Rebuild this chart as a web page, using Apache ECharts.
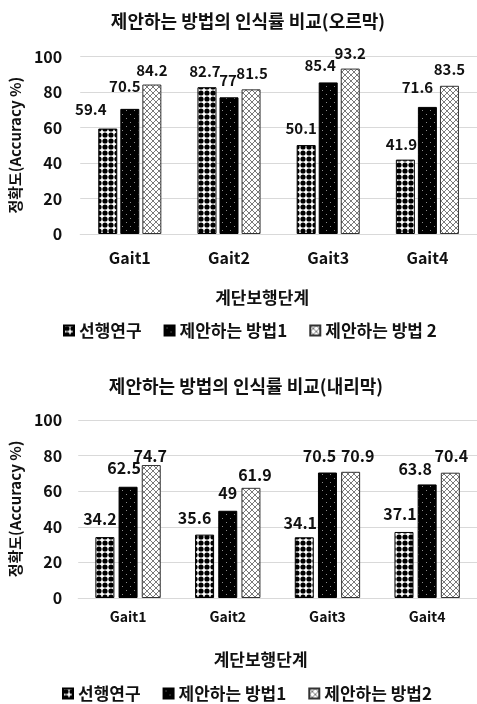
<!DOCTYPE html>
<html>
<head>
<meta charset="utf-8">
<script src="https://cdn.jsdelivr.net/npm/echarts@6/dist/echarts.min.js"></script>
<style>
  html, body { margin: 0; padding: 0; background: #fff; }
  #chart { width: 477px; height: 704px; }
</style>
</head>
<body>
<div id="chart"></div>
<script>
// Gait stages and recognition accuracy (%) per method
const categories = ['Gait1', 'Gait2', 'Gait3', 'Gait4'];
const seriesNames = ['선행연구', '제안하는 방법1'];
const uphillThirdName = '제안하는 방법 2';
const downhillThirdName = '제안하는 방법2';

// uphill (오르막)
const uphillPrior = [59.4, 82.7, 50.1, 41.9];
const uphillMethod1 = [70.5, 77, 85.4, 71.6];
const uphillMethod2 = [84.2, 81.5, 93.2, 83.5];

// downhill (내리막)
const downhillPrior = [34.2, 35.6, 34.1, 37.1];
const downhillMethod1 = [62.5, 49, 70.5, 63.8];
const downhillMethod2 = [74.7, 61.9, 70.9, 70.4];

// value axis ticks
const yMin = 0, yMax = 100, yStep = 20;

// label nudges (px) so the value labels sit clear of each other
const upShift = [
  [[-17, -7], [-2, -3], [-5, -4], [-4, -3]],
  [[-5, -10], [-1, -5], [-8, -5], [-10, -7]],
  [[0, -2], [1, -4], [0, -3], [0, -4]]
];
const downShift = [
  [[-5, -5], [-10, -4], [-4, -1], [-4, -5]],
  [[-4, -6], [0, -5], [-8, -4], [-12, -3]],
  [[-1, 4], [4, 0], [7, -3], [1, -4]]
];

const FONT = "'Noto Sans CJK KR', 'Noto Sans', sans-serif";
const INK = '#111';

// fill patterns
function tile(size, draw) {
  const c = document.createElement('canvas');
  c.width = size; c.height = size;
  const g = c.getContext('2d');
  draw(g, size);
  return { image: c, repeat: 'repeat' };
}
const dotsPattern = tile(6, (g, s) => {
  g.fillStyle = '#fff'; g.fillRect(0, 0, s, s);
  g.fillStyle = '#000';
  g.beginPath(); g.arc(3, 3, 2.6, 0, Math.PI * 2); g.fill();
});
const darkPattern = tile(8, (g, s) => {
  g.fillStyle = '#000'; g.fillRect(0, 0, s, s);
  g.fillStyle = '#8a8a8a';
  g.fillRect(2, 2, 1, 1);
  g.fillRect(6, 6, 1, 1);
});
const crossPattern = tile(6, (g, s) => {
  g.fillStyle = '#fff'; g.fillRect(0, 0, s, s);
  g.strokeStyle = '#7a7a7a'; g.lineWidth = 1;
  g.beginPath();
  g.moveTo(0, 0); g.lineTo(s, s);
  g.moveTo(s, 0); g.lineTo(0, s);
  g.stroke();
});
const fills = [dotsPattern, darkPattern, crossPattern];
const borders = ['#000', '#000', '#333'];

function makeData(values, shifts) {
  return values.map((v, i) => ({ value: v, label: { offset: shifts[i] } }));
}

function barSeries(name, values, shifts, k, axisIdx, opts) {
  return {
    type: 'bar',
    name: name,
    xAxisIndex: axisIdx,
    yAxisIndex: axisIdx,
    barWidth: opts.barWidth,
    barGap: opts.barGap,
    data: makeData(values, shifts),
    itemStyle: { color: fills[k], borderColor: borders[k], borderWidth: 1 },
    label: {
      show: true,
      position: 'top',
      color: INK,
      fontFamily: FONT,
      fontWeight: 'bold',
      fontSize: opts.labelSize
    },
    emphasis: { disabled: true }
  };
}

function xAxis(gridIndex, labelSize, labelMargin, nameGap, namePad) {
  return {
    type: 'category',
    gridIndex: gridIndex,
    data: categories,
    axisTick: { show: false },
    axisLine: { lineStyle: { color: '#d9d9d9', width: 1 } },
    axisLabel: { color: INK, fontFamily: FONT, fontWeight: 'bold', fontSize: labelSize, margin: labelMargin },
    name: '계단보행단계',
    nameLocation: 'middle',
    nameGap: nameGap,
    nameTextStyle: { color: INK, fontFamily: FONT, fontWeight: 'bold', fontSize: 17, padding: [0, namePad, 0, 0] }
  };
}

function yAxis(gridIndex, labelSize, labelMargin, nameGap) {
  return {
    type: 'value',
    gridIndex: gridIndex,
    min: yMin,
    max: yMax,
    interval: yStep,
    axisLine: { show: false },
    axisTick: { show: false },
    splitLine: { lineStyle: { color: '#d9d9d9', width: 1 } },
    axisLabel: { color: INK, fontFamily: FONT, fontWeight: 'bold', fontSize: labelSize, margin: labelMargin },
    name: '정확도(Accuracy %)',
    nameLocation: 'middle',
    nameRotate: 90,
    nameGap: nameGap,
    nameTextStyle: { color: INK, fontFamily: FONT, fontWeight: 'bold', fontSize: 15 }
  };
}

const legendText = { color: INK, fontFamily: FONT, fontWeight: 'bold', fontSize: 17 };
const upOpts = { barWidth: 19, barGap: '16%', labelSize: 15 };
const downOpts = { barWidth: 19, barGap: '22%', labelSize: 16 };

const chart = echarts.init(document.getElementById('chart'));
chart.setOption({
  animation: false,
  backgroundColor: '#fff',
  title: [
    {
      text: '제안하는 방법의 인식률 비교(오르막)',
      left: 243, top: 7, textAlign: 'center',
      textStyle: { color: INK, fontFamily: FONT, fontWeight: 'bold', fontSize: 18 }
    },
    {
      text: '제안하는 방법의 인식률 비교(내리막)',
      left: 241, top: 372, textAlign: 'center',
      textStyle: { color: INK, fontFamily: FONT, fontWeight: 'bold', fontSize: 18 }
    }
  ],
  legend: [
    {
      data: [seriesNames[0], seriesNames[1], uphillThirdName],
      left: 58, top: 317, itemWidth: 10, itemHeight: 10, itemGap: 22,
      icon: 'rect', textStyle: legendText, selectedMode: false
    },
    {
      data: [seriesNames[0], seriesNames[1], downhillThirdName],
      left: 57, top: 680, itemWidth: 10, itemHeight: 10, itemGap: 22,
      icon: 'rect', textStyle: legendText, selectedMode: false
    }
  ],
  grid: [
    { left: 71, top: 56.5, width: 406, height: 177.5 },
    { left: 64, top: 420, width: 418, height: 178 }
  ],
  xAxis: [
    xAxis(0, 16, 16, 55, 33),
    xAxis(1, 14, 12, 53, 34)
  ],
  yAxis: [
    yAxis(0, 16, 18, 49),
    yAxis(1, 16, 16, 42)
  ],
  series: [
    barSeries(seriesNames[0], uphillPrior, upShift[0], 0, 0, upOpts),
    barSeries(seriesNames[1], uphillMethod1, upShift[1], 1, 0, upOpts),
    barSeries(uphillThirdName, uphillMethod2, upShift[2], 2, 0, upOpts),
    barSeries(seriesNames[0], downhillPrior, downShift[0], 0, 1, downOpts),
    barSeries(seriesNames[1], downhillMethod1, downShift[1], 1, 1, downOpts),
    barSeries(downhillThirdName, downhillMethod2, downShift[2], 2, 1, downOpts)
  ]
});
</script>
</body>
</html>
